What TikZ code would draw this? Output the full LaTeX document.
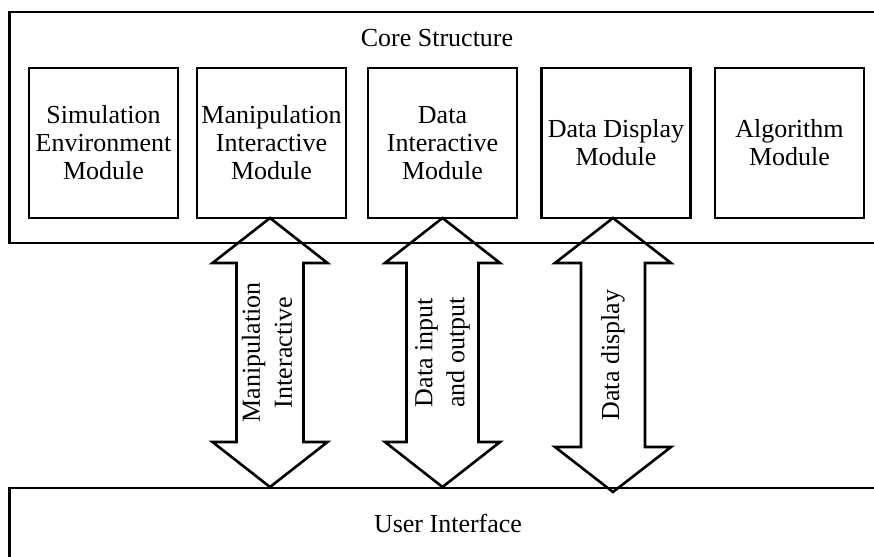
\documentclass[tikz,border=0pt]{standalone}
\usepackage{fontspec}
\setmainfont{Liberation Serif}
\usepackage{tikz}
\usetikzlibrary{calc}

% hollow double arrow: top tip, bottom tip, shaft half width, head half width, head length
\newcommand{\linkshape}[5]{%
	\draw [linkarrow] (#1) -- ++(#4, #5) -- ++({#3-#4}, 0) -- ($(#2)+(#3, -#5)$) -- ++({#4-#3}, 0)
		-- (#2) -- ++(-#4, -#5) -- ++({#4-#3}, 0) -- ($(#1)+(-#3, #5)$) -- ++({#3-#4}, 0) -- cycle;}

\begin{document}
\begin{tikzpicture}[x = 0.5pt, y = -0.5pt]
	\tikzset{
		frame/.style = {draw, line width = 1.4pt},
		label text/.style = {font = \fontsize{13}{14}\selectfont, inner sep = 1pt},
		modulebox/.style = {draw, line width = 1.4pt, minimum width = 74.5pt, minimum height = 75pt, align = center, inner sep = 0pt, font = \fontsize{13}{14}\selectfont},
		linkarrow/.style = {draw, line width = 1.3pt},
		link text/.style = {rotate = 90, align = center, inner sep = 1pt, font = \fontsize{13}{16}\selectfont}
	}
	\path [use as bounding box, draw = none] (0, 0) rectangle (874, 557);
	\clip (0, 0) rectangle (874, 557);
	% the two frames run off the page to the right
	\draw [frame] (9.5, 12) rectangle (900, 243);
	\draw [frame] (9.5, 488) rectangle (900, 620);
	\coordinate (uitop) at (0, 487);
	\node [label text] (core) at (437, 38) {Core Structure};
	\node [label text] (ui) at (448, 523) {User Interface};
	% modules
	\node [modulebox] (sim) at (103.5, 143) {Simulation\\Environment\\Module};
	\node [modulebox] (mim) at (271.5, 143) {Manipulation\\Interactive\\Module};
	\node [modulebox] (dim) at (442.5, 143) {Data\\Interactive\\Module};
	\node [modulebox] (ddm) at (616, 143) {Data Display\\Module};
	\node [modulebox] (alg) at (789.5, 143) {Algorithm\\Module};
	% links to the user interface
	\coordinate (mitop) at ($(mim.south) + (-1.5, -1.4)$);
	\coordinate (mibot) at (mitop |- uitop);
	\coordinate (ditop) at ($(dim.south) + (0, -1.4)$);
	\coordinate (dibot) at (ditop |- uitop);
	\coordinate (ddtop) at ($(ddm.south) + (-3, -1.4)$);
	\coordinate (ddbot) at ($(ddtop |- uitop) + (0, 5)$);
	\linkshape{mitop}{mibot}{33.5}{57.5}{45}
	\linkshape{ditop}{dibot}{36}{57.5}{45}
	\linkshape{ddtop}{ddbot}{32}{58}{45}
	\node [link text] (lnkmi) at ($(mitop)!0.5!(mibot) + (-3, 0)$) {Manipulation\\Interactive};
	\node [link text] (lnkdi) at ($(ditop)!0.5!(dibot)$) {Data input\\and output};
	\node [link text] (lnkdd) at ($(ddtop)!0.5!(ddbot)$) {Data display};
\end{tikzpicture}
\end{document}
